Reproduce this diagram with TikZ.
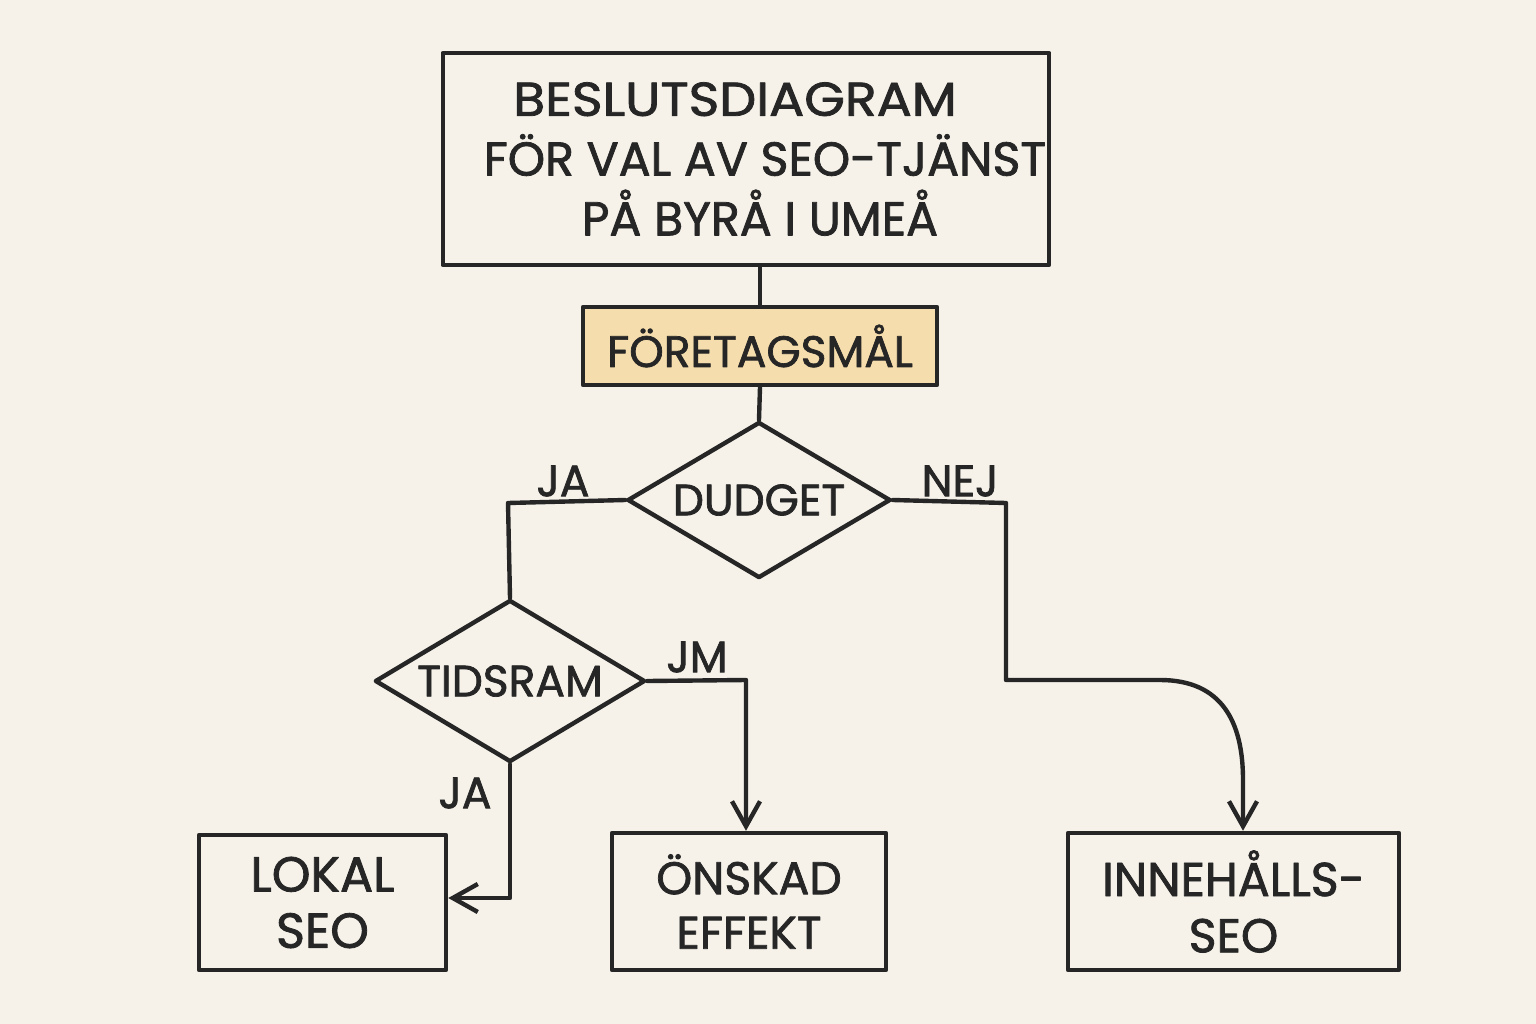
\documentclass[tikz,border=0pt]{standalone}
\usepackage{fontspec}
\usepackage{graphicx}
\setmainfont{Poppins}[FakeBold=1.6]
\usetikzlibrary{arrows.meta,shapes.geometric}
\definecolor{bg}{HTML}{F6F2EA}
\definecolor{ink}{HTML}{262626}
\definecolor{tan}{HTML}{F5DDAD}
\tikzset{
  ln/.style={draw=ink, line width=1.25pt, line join=round, line cap=round},
  box/.style={ln, rectangle, inner sep=0pt, align=center, text=ink},
  dia/.style={ln, diamond, inner sep=0pt, aspect=1.7, text=ink},
  lbl/.style={text=ink, font=\fontsize{12.5}{14}\selectfont},
  arr/.style={ln, -{Straight Barb[length=2.5mm,width=2.8mm,line width=1.25pt]}},
  boxfont/.style={font=\fontsize{13}{15.5}\selectfont}
}
\begin{document}
\begin{tikzpicture}[x=0.01cm,y=-0.01cm]
\useasboundingbox[fill=bg] (0,0) rectangle (1536,1024);
% nodes
\node[box, minimum width=6.06cm, minimum height=2.12cm, font=\fontsize{13.5}{17}\selectfont] (title) at (746,159)
  {\scalebox{1.1}[1]{BESLUTSDIAGRAM}\hspace*{0.22cm}\\\hspace*{0.38cm}FÖR VAL AV SEO-TJÄNST\\\hspace*{0.28cm}PÅ BYRÅ I UMEÅ};
\node[box, fill=tan, minimum width=3.54cm, minimum height=0.78cm, font=\fontsize{12.5}{15}\selectfont] (goal) at (760,346) {FÖRETAGSMÅL};
\node[dia, minimum width=2.63cm, minimum height=1.56cm, font=\fontsize{12.5}{15}\selectfont] (budget) at (759,500) {DUDGET};
\node[dia, minimum width=2.70cm, minimum height=1.62cm, font=\fontsize{12.5}{15}\selectfont] (tids) at (510,681) {TIDSRAM};
\node[box, boxfont, font=\fontsize{14}{16}\selectfont, minimum width=2.47cm, minimum height=1.35cm] (lokal) at (322.5,902.5) {LOKAL\\SEO};
\node[box, boxfont, minimum width=2.74cm, minimum height=1.37cm] (onskad) at (749,901.5) {ÖNSKAD\\EFFEKT};
\node[box, boxfont, font=\fontsize{13.5}{16}\selectfont, minimum width=3.31cm, minimum height=1.37cm] (inneh) at (1233.5,901.5) {INNEHÅLLS-\\SEO};
% bend points
\coordinate (b1) at (508,503);
\coordinate (b2) at (1006,503);
\coordinate (b3) at (1006,680);
\coordinate (b4) at (1160,680);
\coordinate (b5) at (746,680);
\coordinate (b6) at (510,898);
% connectors
\draw[ln] (title.south -| goal.north) -- (goal.north);
\draw[ln] (goal.south) -- (budget.north);
\draw[ln] (budget.west) -- (b1) -- (tids.north);
\draw[arr] (budget.east) -- (b2) -- (b3) -- (b4) .. controls (1222,680) and (1243,722) .. (1243,780) -- (inneh.north -| 1243,0);
\draw[arr] (tids.east) -- (b5) -- (onskad.north -| b5);
\draw[arr] (tids.south) -- (b6) -- (lokal.east |- b6);
% labels
\node[lbl] (l1) at (563,481) {JA};
\node[lbl] (l2) at (960,481) {NEJ};
\node[lbl] (l3) at (697,657) {JM};
\node[lbl] (l4) at (465,793) {JA};
\end{tikzpicture}
\end{document}
